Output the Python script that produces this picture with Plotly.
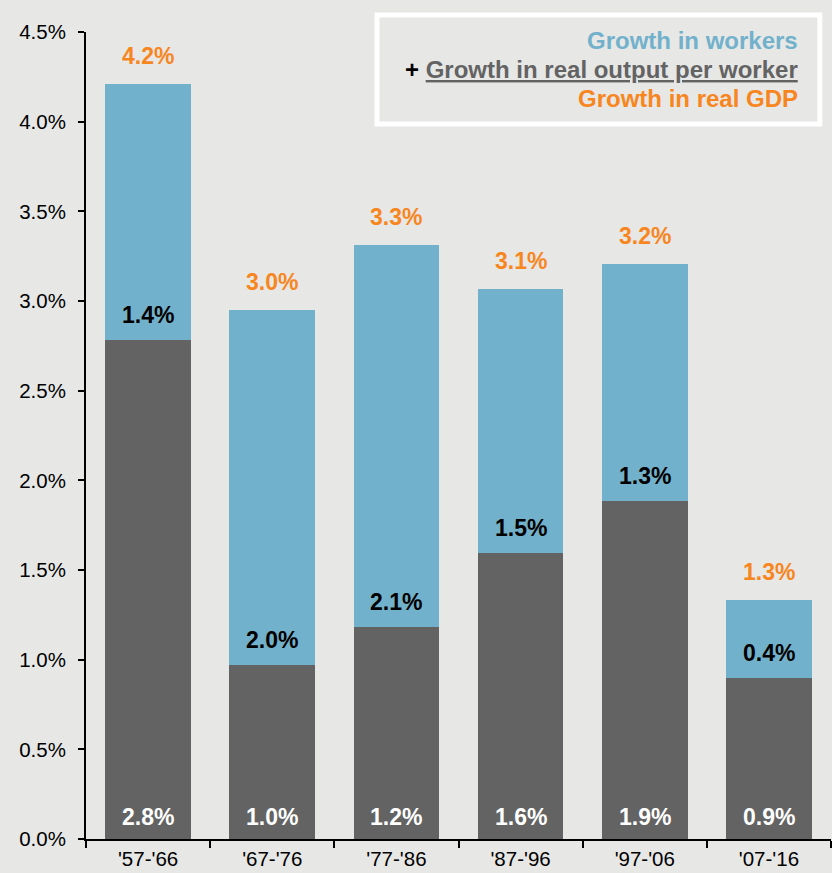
import plotly.graph_objects as go

periods = ["'57-'66", "'67-'76", "'77-'86", "'87-'96", "'97-'06", "'07-'16"]
output_per_worker = [2.78, 0.97, 1.18, 1.595, 1.885, 0.90]
workers = [1.43, 1.98, 2.13, 1.47, 1.32, 0.43]
gdp_labels = [4.2, 3.0, 3.3, 3.1, 3.2, 1.3]
y_ticks = [0, 0.5, 1.0, 1.5, 2.0, 2.5, 3.0, 3.5, 4.0, 4.5]

BG = "#e7e7e6"
BLUE = "#72b1cb"
GRAY = "#636363"
ORANGE = "#f7861f"
FONT = "Liberation Sans, Arial, sans-serif"

totals = [a + b for a, b in zip(output_per_worker, workers)]

fig = go.Figure()
fig.add_trace(go.Bar(x=periods, y=output_per_worker, marker=dict(color=GRAY, line=dict(width=0)),
                     width=0.69, name="Growth in real output per worker", hoverinfo="skip"))
fig.add_trace(go.Bar(x=periods, y=workers, marker=dict(color=BLUE, line=dict(width=0)),
                     width=0.69, name="Growth in workers", hoverinfo="skip"))

ann = []
for p, o, w, t, g in zip(periods, output_per_worker, workers, totals, gdp_labels):
    ann.append(dict(x=p, y=0, xref="x", yref="y", text=f"<b>{o:.1f}%</b>", showarrow=False,
                    yanchor="bottom", yshift=7, font=dict(family=FONT, size=23, color="white")))
    ann.append(dict(x=p, y=o, xref="x", yref="y", text=f"<b>{w:.1f}%</b>", showarrow=False,
                    yanchor="bottom", yshift=10, font=dict(family=FONT, size=23, color="black")))
    ann.append(dict(x=p, y=t, xref="x", yref="y", text=f"<b>{g:.1f}%</b>", showarrow=False,
                    yanchor="bottom", yshift=13, font=dict(family=FONT, size=23, color=ORANGE)))

# legend-like text box
ann.append(dict(x=0.958, y=0.989, xref="paper", yref="paper", xanchor="right", yanchor="middle",
                text="<b>Growth in workers</b>", showarrow=False,
                font=dict(family=FONT, size=24, color=BLUE)))
ann.append(dict(x=0.958, y=0.953, xref="paper", yref="paper", xanchor="right", yanchor="middle",
                text="<b><span style='color:black'>+</span> <u>Growth in real output per worker</u></b>",
                showarrow=False, font=dict(family=FONT, size=24, color=GRAY)))
ann.append(dict(x=0.958, y=0.917, xref="paper", yref="paper", xanchor="right", yanchor="middle",
                text="<b>Growth in real GDP</b>", showarrow=False,
                font=dict(family=FONT, size=24, color=ORANGE)))

fig.update_layout(
    width=832, height=873,
    margin=dict(l=86, r=1, t=32, b=34),
    paper_bgcolor=BG, plot_bgcolor=BG,
    barmode="stack", showlegend=False,
    annotations=ann,
    shapes=[dict(type="rect", xref="paper", yref="paper", x0=0.3906, x1=0.985, y0=0.886, y1=1.021,
                 line=dict(color="white", width=5), fillcolor=BG, layer="below")],
    font=dict(family=FONT, color="black"),
)
fig.update_xaxes(showgrid=False, showline=True, linecolor="black", linewidth=2,
                 ticks="outside", tickson="boundaries", ticklen=7, tickwidth=1.5, tickcolor="black",
                 tickfont=dict(family=FONT, size=20.5, color="black"), fixedrange=True)
fig.update_yaxes(range=[0, 4.5], tickvals=y_ticks, ticktext=[f"{v:.1f}%" for v in y_ticks],
                 showgrid=False, zeroline=False, showline=True, linecolor="black", linewidth=2,
                 ticks="outside", ticklen=6, tickwidth=1.5, tickcolor="black", ticklabelstandoff=8,
                 tickfont=dict(family=FONT, size=20.5, color="black"), fixedrange=True)

fig.write_html("out.html", config={"displayModeBar": False},
               post_script="document.body.style.margin='0';document.body.style.padding='0';"
                           "document.body.style.overflow='hidden';")
